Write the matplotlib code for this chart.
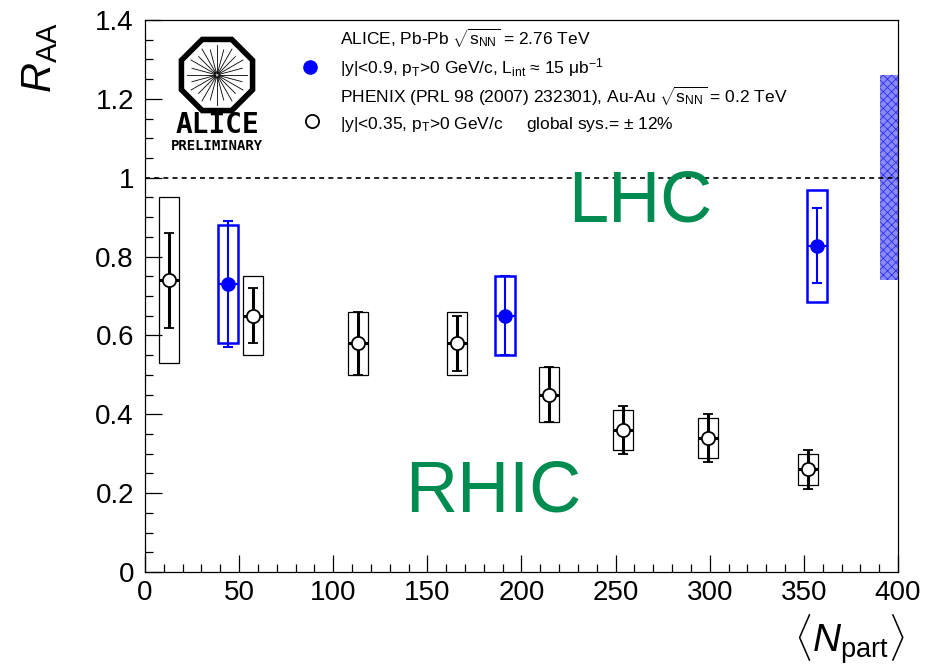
import numpy as np
import matplotlib
matplotlib.use('Agg')
import matplotlib.pyplot as plt
from matplotlib.patches import Rectangle, RegularPolygon, Circle
from matplotlib.ticker import MultipleLocator, FuncFormatter
from matplotlib import font_manager

plt.rcParams['font.family'] = ['Liberation Sans', 'DejaVu Sans']
plt.rcParams['mathtext.fontset'] = 'custom'
plt.rcParams['mathtext.rm'] = 'Liberation Sans'
plt.rcParams['mathtext.it'] = 'Liberation Sans:italic'
plt.rcParams['mathtext.bf'] = 'Liberation Sans:bold'
plt.rcParams['hatch.linewidth'] = 0.6

# PHENIX, Au-Au 0.2 TeV
phenix_npart = [12.7, 57.4, 113.1, 165.7, 214.6, 253.8, 299.2, 352.2]
phenix_raa = [0.74, 0.65, 0.58, 0.58, 0.45, 0.36, 0.34, 0.26]
phenix_stat = [0.12, 0.07, 0.08, 0.07, 0.07, 0.06, 0.06, 0.05]
phenix_sys = [0.21, 0.10, 0.08, 0.08, 0.07, 0.05, 0.05, 0.04]

# ALICE, Pb-Pb 2.76 TeV
alice_npart = [44.1, 191.4, 357.1]
alice_raa = [0.73, 0.65, 0.827]
alice_stat = [0.16, 0.10, 0.095]
alice_sys = [0.15, 0.10, 0.142]

# global systematic band at R_AA = 1
glob_lo, glob_hi = 0.74, 1.26
glob_x0, glob_x1 = 390.4, 400.0

box_hw = 5.3
green = '#008c50'

names = {f.name for f in font_manager.fontManager.ttflist}
narrow = 'Liberation Sans Narrow' if 'Liberation Sans Narrow' in names else 'Liberation Sans'

fig = plt.figure(figsize=(9.28, 6.69), dpi=100)
ax = fig.add_axes([145/928, 1 - 572/669, 753/928, 552/669])

# systematic boxes
for x, y, s in zip(phenix_npart, phenix_raa, phenix_sys):
    ax.add_patch(Rectangle((x - box_hw, y - s), 2*box_hw, 2*s, fill=False,
                           edgecolor='black', lw=0.9, zorder=2))
for x, y, s in zip(alice_npart, alice_raa, alice_sys):
    ax.add_patch(Rectangle((x - box_hw, y - s), 2*box_hw, 2*s, fill=False,
                           edgecolor='#0000ff', lw=1.8, zorder=2))

ax.add_patch(Rectangle((glob_x0, glob_lo), glob_x1 - glob_x0, glob_hi - glob_lo,
                       facecolor='#8a8af8', edgecolor='#2e2ef2', hatch='xxxx',
                       lw=0, zorder=1))

ax.axhline(1.0, color='black', ls=(0, (3, 2.5)), lw=1.2, zorder=1)

# x spread (no caps) then stat errors with caps
ax.errorbar(phenix_npart, phenix_raa, xerr=box_hw, fmt='none', ecolor='black',
            elinewidth=2.2, capsize=0, zorder=3)
ax.errorbar(alice_npart, alice_raa, xerr=box_hw, fmt='none', ecolor='#0000ff',
            elinewidth=1.5, capsize=0, zorder=3)
ax.errorbar(phenix_npart, phenix_raa, yerr=phenix_stat, fmt='o',
            color='black', mfc='white', mec='black', mew=1.3, ms=9.5,
            elinewidth=2.2, capsize=3.5, capthick=2.2, zorder=4)
ax.errorbar(alice_npart, alice_raa, yerr=alice_stat, fmt='o',
            color='#0000ff', mfc='#0000ff', mec='#0000ff', ms=9.5,
            elinewidth=1.5, capsize=3.5, capthick=1.5, zorder=4)

ax.set_xlim(0, 400)
ax.set_ylim(0, 1.4)
ax.xaxis.set_major_locator(MultipleLocator(50))
ax.xaxis.set_minor_locator(MultipleLocator(10))
ax.yaxis.set_major_locator(MultipleLocator(0.2))
ax.yaxis.set_minor_locator(MultipleLocator(0.05))
ax.yaxis.set_major_formatter(FuncFormatter(lambda v, p: f'{v:g}'))
ax.tick_params(which='both', direction='in', top=False, right=False, width=0.9)
ax.tick_params(which='major', length=12)
ax.tick_params(which='minor', length=6)
ax.tick_params(axis='y', labelsize=20, pad=8)
ax.tick_params(axis='x', labelsize=20, pad=6)
for lab in ax.get_xticklabels():
    lab.set_family(narrow)
for sp in ax.spines.values():
    sp.set_linewidth(0.9)

# LHC / RHIC labels
ax.text(263, 0.936, 'LHC', color=green, fontsize=52, ha='center', va='center')
ax.text(185, 0.20, 'RHIC', color=green, fontsize=52, ha='center', va='center')

# legend block
ax.plot([87.6], [1.281], 'o', color='#0000ff', ms=9.5, clip_on=False)
ax.plot([88.7], [1.144], 'o', mfc='white', mec='black', mew=1.3, ms=9.5, clip_on=False)
lx = 103.6
fs = 12.5
ax.text(lx, 1.352, r'ALICE, Pb-Pb $\sqrt{\mathrm{s}_{\rm NN}}$ = 2.76 TeV', fontsize=fs, va='center')
ax.text(lx, 1.279, r'|y|<0.9, p$_{\rm T}$>0 GeV/c, L$_{\rm int}$ ≈ 15 μb$^{-1}$',
        fontsize=fs, va='center')
ax.text(lx, 1.207, r'PHENIX (PRL 98 (2007) 232301), Au-Au $\sqrt{\mathrm{s}_{\rm NN}}$ = 0.2 TeV',
        fontsize=fs, va='center')
ax.text(lx, 1.136, r'|y|<0.35, p$_{\rm T}$>0 GeV/c     global sys.= ± 12%',
        fontsize=fs, va='center')

# axis titles
fig.text(40/928, 1 - 58/669, r'$R_{\rm AA}$', fontsize=30, rotation=90,
         ha='center', va='center')
fig.text(905/928, 1 - 640/669, r'$\langle N_{\rm part}\rangle$', fontsize=28,
         ha='right', va='center')

# ALICE logo
lg = fig.add_axes([160/928, 1 - 155/669, 115/928, 125/669])
lg.set_xlim(160, 275)
lg.set_ylim(155, 30)
lg.set_aspect('equal')
lg.axis('off')
cx, cy = 217, 75
lg.add_patch(RegularPolygon((cx, cy), 8, radius=41.5, orientation=np.pi/8,
                            facecolor='black', edgecolor='none'))
lg.add_patch(RegularPolygon((cx, cy), 8, radius=35.5, orientation=np.pi/8,
                            facecolor='white', edgecolor='none'))
for k, a in enumerate(np.linspace(0, 2*np.pi, 24, endpoint=False)):
    r = 30 if k % 2 == 0 else 26
    lg.plot([cx + 2*np.cos(a), cx + r*np.cos(a)], [cy + 2*np.sin(a), cy + r*np.sin(a)],
            color='black', lw=0.6)
lg.add_patch(Circle((cx, cy), 4, facecolor='#aaaaaa', edgecolor='none'))
lg.text(cx, 125, 'ALICE', family='DejaVu Sans Mono', weight='bold', fontsize=20,
        ha='center', va='center')
lg.text(cx, 146, 'PRELIMINARY', family='DejaVu Sans Mono', weight='bold', fontsize=10,
        ha='center', va='center')

fig.savefig('out.png', dpi=100)
